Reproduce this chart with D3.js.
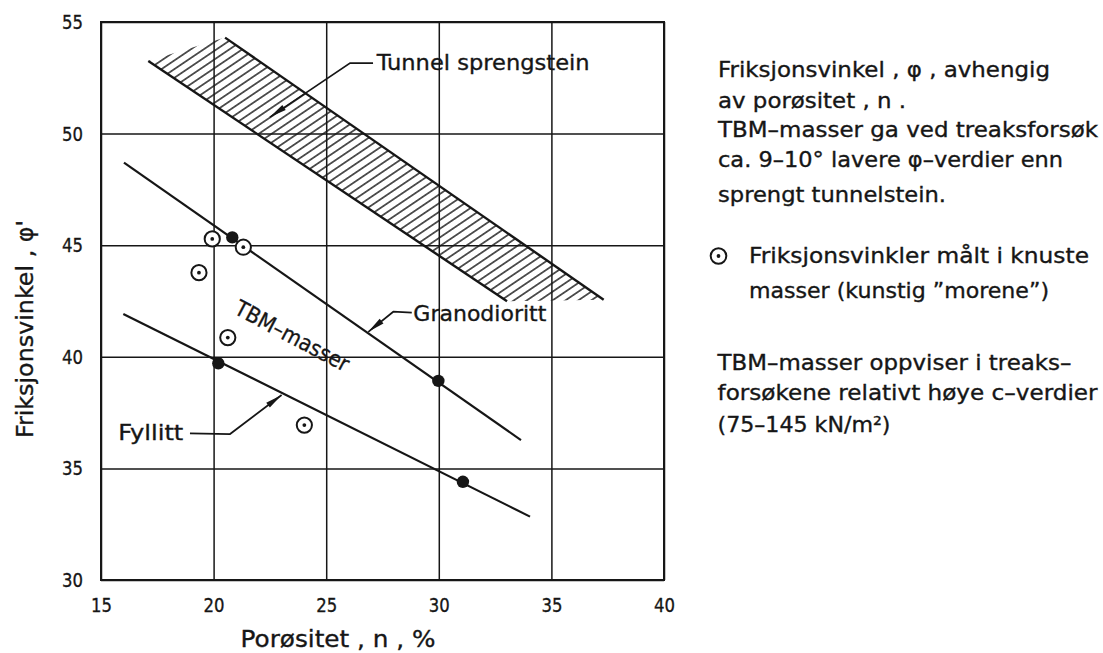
<!DOCTYPE html>
<html><head><meta charset="utf-8">
<script src="https://cdn.jsdelivr.net/npm/d3@7"></script>
<style>
html,body{margin:0;padding:0;background:#fff;}
svg{display:block;}
text{font-family:"DejaVu Sans","Liberation Sans",sans-serif;fill:#161616;stroke:#161616;stroke-width:0.35px;}
</style></head><body>
<svg id="chart" width="1103" height="653"></svg>
<script>
// ---------- data ----------
const xTicks = [15, 20, 25, 30, 35, 40];
const yTicks = [30, 35, 40, 45, 50, 55];
const granodiorittLine = [[16.02, 48.70], [33.65, 36.27]];
const fyllittLine = [[15.99, 41.92], [34.05, 32.84]];
const granodiorittPoints = [[20.83, 45.35], [29.98, 38.92]];
const fyllittPoints = [[20.21, 39.71], [31.07, 34.40]];
const crushedPoints = [[19.94, 45.28], [21.32, 44.91], [19.35, 43.77], [20.63, 40.86], [24.03, 36.94]];
const bandUpper = [[20.51, 54.30], [37.32, 42.56]];
const bandLower = [[17.10, 53.25], [33.03, 42.49]];
const tunnelLeader = [[27.08, 53.16], [26.06, 53.16], [22.50, 50.74]];
const granodiorittLeader = [[28.80, 41.98], [27.98, 42.02], [26.87, 41.12]];
const fyllittLeader = [[18.95, 36.57], [20.73, 36.54], [23.02, 38.29]];
const labelNames = ["Tunnel sprengstein", "Granodioritt", "Fyllitt", "TBM–masser"];
const labelAnchors = [[27.24, 52.85], [28.87, 41.60], [15.77, 36.27], [20.86, 41.96]];
const xTitle = "Porøsitet , n , %";
const yTitle = "Friksjonsvinkel , φ'";
const noteLines = ["Friksjonsvinkel , φ , avhengig", "av porøsitet , n .", "TBM–masser ga ved treaksforsøk", "ca. 9–10° lavere φ–verdier enn", "sprengt tunnelstein."];
const legendLines = ["Friksjonsvinkler målt i knuste", "masser (kunstig ”morene”)"];
const cNoteLines = ["TBM–masser oppviser i treaks–", "forsøkene relativt høye c–verdier", "(75–145 kN/m²)"];

// ---------- layout ----------
const L = 101, R = 664, T = 22, B = 580;
const ink = "#161616";
const svg = d3.select("#chart");
const x = d3.scaleLinear().domain([15, 40]).range([L, R]);
const y = d3.scaleLinear().domain([30, 55]).range([B, T]);
const line = d3.line().x(d => x(d[0])).y(d => y(d[1]));

// grid + axes
const gx = svg.append("g").attr("transform", `translate(0,${B})`)
  .call(d3.axisBottom(x).tickValues(xTicks).tickSize(-(B - T)).tickPadding(18).tickFormat(d3.format("d")));
const gy = svg.append("g").attr("transform", `translate(${L},0)`)
  .call(d3.axisLeft(y).tickValues(yTicks).tickSize(-(R - L)).tickPadding(18).tickFormat(d3.format("d")));
[gx, gy].forEach(g => {
  g.select(".domain").remove();
  g.selectAll(".tick line").attr("stroke", ink).attr("stroke-width", 1.5);
  g.selectAll(".tick text").attr("font-size", 20).attr("fill", ink)
    .attr("textLength", 21).attr("lengthAdjust", "spacingAndGlyphs");
});
svg.append("rect").attr("x", L).attr("y", T).attr("width", R - L).attr("height", B - T)
  .attr("fill", "none").attr("stroke", ink).attr("stroke-width", 2);

// hatched band
const defs = svg.append("defs");
const pat = defs.append("pattern").attr("id", "hatch").attr("patternUnits", "userSpaceOnUse")
  .attr("width", 30).attr("height", 7.2).attr("patternTransform", "rotate(-34)");
pat.append("line").attr("x1", 0).attr("x2", 30).attr("y1", 3.6).attr("y2", 3.6)
  .attr("stroke", ink).attr("stroke-width", 1.4);
const poly = [bandLower[0], bandUpper[0], bandUpper[1], bandLower[1]];
svg.append("path").attr("d", line(poly) + "Z").attr("fill", "url(#hatch)");
[bandUpper, bandLower].forEach(b => svg.append("path").attr("d", line(b))
  .attr("fill", "none").attr("stroke", ink).attr("stroke-width", 2.4));

// trend lines
[granodiorittLine, fyllittLine].forEach(l => svg.append("path").attr("d", line(l))
  .attr("fill", "none").attr("stroke", ink).attr("stroke-width", 2.2));

// leaders with arrowheads
function leader(pts) {
  svg.append("path").attr("d", line(pts)).attr("fill", "none").attr("stroke", ink).attr("stroke-width", 1.7);
  const p = pts[pts.length - 1], q = pts[pts.length - 2];
  const px = x(p[0]), py = y(p[1]), qx = x(q[0]), qy = y(q[1]);
  const dx = px - qx, dy = py - qy, len = Math.hypot(dx, dy);
  const ux = dx / len, uy = dy / len, nx = -uy, ny = ux;
  const bx = px - ux * 17, by = py - uy * 17, w = 3;
  svg.append("path").attr("d", `M${px},${py}L${bx + nx * w},${by + ny * w}L${bx - nx * w},${by - ny * w}Z`).attr("fill", ink);
}
[tunnelLeader, granodiorittLeader, fyllittLeader].forEach(leader);

// points
const filled = granodiorittPoints.concat(fyllittPoints);
svg.selectAll("circle.f").data(filled).join("circle").attr("class", "f")
  .attr("cx", d => x(d[0])).attr("cy", d => y(d[1])).attr("r", 6.2).attr("fill", ink);
const og = svg.selectAll("g.o").data(crushedPoints).join("g").attr("class", "o")
  .attr("transform", d => `translate(${x(d[0])},${y(d[1])})`);
og.append("circle").attr("r", 7.6).attr("fill", "#fff").attr("stroke", ink).attr("stroke-width", 2);
og.append("circle").attr("r", 1.9).attr("fill", ink);

// in-plot labels
const labelWidths = [213, 133, 65, 126];
labelNames.forEach((t, i) => {
  const a = labelAnchors[i];
  const tx = svg.append("text").attr("font-size", 22).attr("textLength", labelWidths[i])
    .attr("lengthAdjust", "spacingAndGlyphs").text(t);
  if (i === 3) tx.attr("transform", `translate(${x(a[0])},${y(a[1])}) rotate(28)`);
  else tx.attr("x", x(a[0])).attr("y", y(a[1]));
});

// axis titles
svg.append("text").attr("x", 338).attr("y", 647).attr("text-anchor", "middle").attr("font-size", 23)
  .attr("textLength", 195).attr("lengthAdjust", "spacingAndGlyphs").text(xTitle);
svg.append("text").attr("transform", "translate(33,329) rotate(-90)").attr("text-anchor", "middle")
  .attr("font-size", 23).attr("textLength", 218).attr("lengthAdjust", "spacingAndGlyphs").text(yTitle);

// notes on the right
const noteY = [76.7, 107.5, 136.7, 166.7, 201.5], noteW = [332, 188, 380, 345, 228];
noteLines.forEach((t, i) => svg.append("text").attr("x", 718).attr("y", noteY[i]).attr("font-size", 21)
  .attr("textLength", noteW[i]).attr("lengthAdjust", "spacingAndGlyphs").text(t));
const legY = [263, 297.5], legW = [340, 300];
svg.append("circle").attr("cx", 718.5).attr("cy", 256).attr("r", 7.8).attr("fill", "none")
  .attr("stroke", ink).attr("stroke-width", 2);
svg.append("circle").attr("cx", 718.5).attr("cy", 256).attr("r", 1.9).attr("fill", ink);
legendLines.forEach((t, i) => svg.append("text").attr("x", 749).attr("y", legY[i]).attr("font-size", 21)
  .attr("textLength", legW[i]).attr("lengthAdjust", "spacingAndGlyphs").text(t));
const cY = [370, 399.5, 432], cW = [354, 380, 173];
cNoteLines.forEach((t, i) => svg.append("text").attr("x", 717.5).attr("y", cY[i]).attr("font-size", 21)
  .attr("textLength", cW[i]).attr("lengthAdjust", "spacingAndGlyphs").text(t));
</script>
</body></html>
